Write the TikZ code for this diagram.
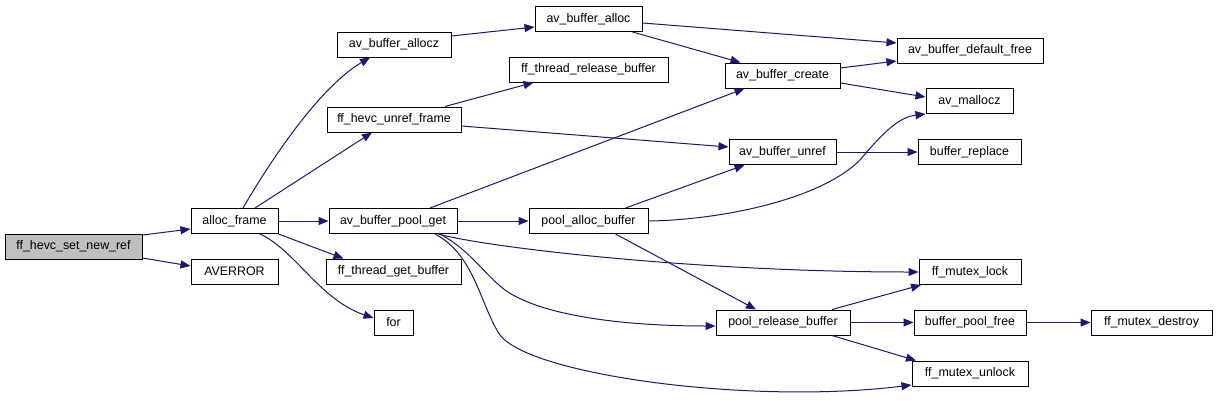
\documentclass[tikz,border=0pt]{standalone}
\usepackage{fontspec}
\setmainfont{Liberation Sans}
\usetikzlibrary{arrows.meta,calc}

\definecolor{edgeblue}{RGB}{25,25,112}
\definecolor{rootgray}{RGB}{191,191,191}

\tikzset{every picture/.style={line width=0.75pt}}
\tikzset{
  fnbox/.style={draw=black, fill=white, minimum height=18.75pt, inner sep=0pt, font=\fontsize{9.3pt}{11pt}\selectfont},
  fnroot/.style={fnbox, fill=rootgray},
  callarrow/.style={draw=edgeblue, line width=0.75pt, -{Triangle[length=7.5pt,width=6pt]}},
}

\begin{document}
\begin{tikzpicture}[x=0.75pt,y=0.75pt,yscale=-1,xscale=1]
\useasboundingbox (0,0) rectangle (1217,400);

% Text Node
\node [fnroot, minimum width=102.75pt] (ref) at (73.5,246.5) {ff\_hevc\_set\_new\_ref};
% Text Node
\node [fnbox, minimum width=65.25pt] (alloc) at (234.5,221) {alloc\_frame};
% Text Node
\node [fnbox, minimum width=65.25pt] (averror) at (234.5,271.5) {AVERROR};
% Text Node
\node [fnbox, minimum width=96pt] (poolget) at (393,221) {av\_buffer\_pool\_get};
% Text Node
\node [fnbox, minimum width=101.25pt] (tgetbuf) at (393.5,271.5) {ff\_thread\_get\_buffer};
% Text Node
\node [fnbox, minimum width=29.25pt] (forloop) at (393.5,322.5) {for};
% Text Node
\node [fnbox, minimum width=85.5pt] (allocz) at (394,44.5) {av\_buffer\_allocz};
% Text Node
\node [fnbox, minimum width=100.5pt] (unrefframe) at (394,119.5) {ff\_hevc\_unref\_frame};
% Text Node
\node [fnbox, minimum width=80.25pt] (bufalloc) at (588.5,19) {av\_buffer\_alloc};
% Text Node
\node [fnbox, minimum width=119.25pt] (trelbuf) at (588.5,69.5) {ff\_thread\_release\_buffer};
% Text Node
\node [fnbox, minimum width=89.25pt] (poolalloc) at (588.5,221) {pool\_alloc\_buffer};
% Text Node
\node [fnbox, minimum width=86.25pt] (bufcreate) at (782.5,75.5) {av\_buffer\_create};
% Text Node
\node [fnbox, minimum width=80.25pt] (bufunref) at (782.5,152) {av\_buffer\_unref};
% Text Node
\node [fnbox, minimum width=100.5pt] (poolrel) at (783,322.5) {pool\_release\_buffer};
% Text Node
\node [fnbox, minimum width=109.5pt] (deffree) at (970,50.5) {av\_buffer\_default\_free};
% Text Node
\node [fnbox, minimum width=65.25pt] (mallocz) at (969.5,101) {av\_mallocz};
% Text Node
\node [fnbox, minimum width=77.25pt] (bufreplace) at (969.5,152) {buffer\_replace};
% Text Node
\node [fnbox, minimum width=76.5pt] (mlock) at (970,272) {ff\_mutex\_lock};
% Text Node
\node [fnbox, minimum width=84pt] (poolfree) at (970,322.5) {buffer\_pool\_free};
% Text Node
\node [fnbox, minimum width=87pt] (munlock) at (970,373.5) {ff\_mutex\_unlock};
% Text Node
\node [fnbox, minimum width=90.75pt] (mdestroy) at (1151.5,322.5) {ff\_mutex\_destroy};

%Straight Lines
\draw [callarrow] ($(ref.east)+(0,-11.5)$) -- ($(alloc.west)+(0,8)$);
\draw [callarrow] ($(ref.east)+(0,11.5)$) -- ($(averror.west)+(0,-5.5)$);
%Curve Lines
\draw [callarrow] ($(alloc.north)+(8.5,0)$) .. controls (268,165) and (318,88) .. ($(allocz.south)+(-24,0)$);
%Straight Lines
\draw [callarrow] ($(alloc.north)+(20.5,0)$) -- ($(unrefframe.south)+(-22,0)$);
\draw [callarrow] (alloc.east) -- (poolget.west);
\draw [callarrow] (alloc.south east) -- ($(tgetbuf.north)+(-50,0)$);
%Curve Lines
\draw [callarrow] ($(alloc.south)+(25.5,0)$) .. controls (295,250) and (320,300) .. ($(forloop.west)+(0,-4.5)$);

%Straight Lines
\draw [callarrow] ($(allocz.east)+(0,-8.5)$) -- ($(bufalloc.west)+(0,8)$);
\draw [callarrow] ($(bufalloc.east)+(0,4)$) -- ($(deffree.west)+(0,-7.5)$);
\draw [callarrow] ($(bufalloc.south east)+(-10,0)$) -- ($(bufcreate.north)+(-42,0)$);
\draw [callarrow] ($(unrefframe.north)+(51,0)$) -- ($(trelbuf.south)+(-55,0)$);
\draw [callarrow] ($(unrefframe.east)+(0,6.5)$) -- ($(bufunref.west)+(0,-5)$);
\draw [callarrow] ($(poolget.north)+(37,0)$) -- ($(bufcreate.south)+(-38,0)$);
\draw [callarrow] (poolget.east) -- (poolalloc.west);
%Curve Lines
\draw [callarrow] ($(poolget.south)+(45,0)$) .. controls (490,248) and (700,272) .. (mlock.west);
\draw [callarrow] ($(poolget.south)+(47,0)$) .. controls (470,250) and (485,275) .. (505,290) .. controls (540,315) and (620,326) .. ($(poolrel.west)+(0,3.5)$);
\draw [callarrow] ($(poolget.south)+(42,0)$) .. controls (475,255) and (480,305) .. (500,335) .. controls (530,375) and (750,405) .. ($(munlock.west)+(0,11.5)$);

%Straight Lines
\draw [callarrow] ($(bufcreate.east)+(0,-7.5)$) -- ($(deffree.west)+(0,10.5)$);
\draw [callarrow] ($(bufcreate.east)+(0,7.5)$) -- ($(mallocz.west)+(0,-4)$);
\draw [callarrow] ($(poolalloc.north)+(37,0)$) -- ($(bufunref.south)+(-38,0)$);
%Curve Lines
\draw [callarrow] (poolalloc.east) .. controls (720,220) and (820,200) .. (860,160) .. controls (885,130) and (900,117) .. (mallocz.south west);
%Straight Lines
\draw [callarrow] ($(poolalloc.south)+(27,0)$) -- ($(poolrel.north)+(-27,0)$);
\draw [callarrow] (bufunref.east) -- (bufreplace.west);
\draw [callarrow] ($(poolrel.north)+(49,0)$) -- ($(mlock.south)+(-49,0)$);
\draw [callarrow] (poolrel.east) -- (poolfree.west);
\draw [callarrow] ($(poolrel.south)+(49,0)$) -- ($(munlock.north)+(-54,0)$);
\draw [callarrow] (poolfree.east) -- (mdestroy.west);

\end{tikzpicture}
\end{document}
